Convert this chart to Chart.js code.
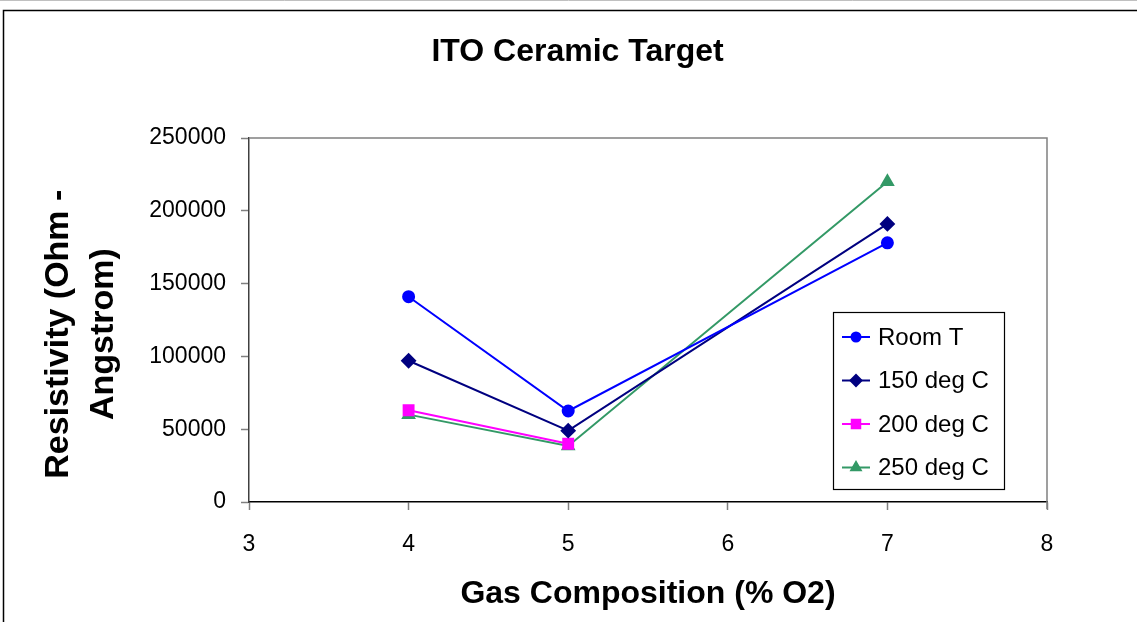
<!DOCTYPE html>
<html>
<head>
<meta charset="utf-8">
<script src="https://cdn.jsdelivr.net/npm/chart.js@4.4.1/dist/chart.umd.min.js"></script>
<style>
  html, body { margin: 0; padding: 0; background: #fff; }
  #wrap { width: 1137px; height: 622px; }
</style>
</head>
<body>
<div id="wrap"><canvas id="itoChart" width="1137" height="622"></canvas></div>
<script>
const gasO2 = [4, 5, 7];
const roomT = [141000, 62500, 178000];
const deg150 = [97000, 49000, 191000];
const deg200 = [63000, 40000, null];
const deg250 = [60000, 38500, 220000];
const xTicks = [3, 4, 5, 6, 7, 8];
const yTicks = [0, 50000, 100000, 150000, 200000, 250000];

const series = [
  { label: 'Room T', values: roomT, color: '#0000FF', style: 'circle', r: 5.5 },
  { label: '150 deg C', values: deg150, color: '#000080', style: 'rectRot', r: 6.5 },
  { label: '200 deg C', values: deg200, color: '#FF00FF', style: 'rect', r: 7 },
  { label: '250 deg C', values: deg250, color: '#339966', style: 'triangle', r: 6.5 },
];

const toPoints = vals => gasO2.map((x, i) => ({ x, y: vals[i] }));

// outer frame + grey plot border (top/right only, axes draw the rest)
const frame = {
  id: 'frame',
  beforeDraw(chart) {
    const c = chart.ctx;
    c.save();
    c.fillStyle = '#fff';
    c.fillRect(0, 0, chart.width, chart.height);
    c.strokeStyle = '#c0c0c0';
    c.lineWidth = 1;
    c.beginPath(); c.moveTo(0, 0.5); c.lineTo(chart.width, 0.5); c.stroke();
    c.strokeStyle = '#000';
    c.lineWidth = 1.5;
    c.strokeRect(3.5, 10.5, 1300, 800);
    c.restore();
  },
  beforeDatasetsDraw(chart) {
    const { left, right, top, bottom } = chart.chartArea;
    const c = chart.ctx;
    c.save();
    c.strokeStyle = '#808080';
    c.lineWidth = 1.5;
    c.beginPath();
    c.moveTo(left, top); c.lineTo(right, top); c.lineTo(right, bottom + 7);
    c.stroke();
    c.restore();
  },
};

// legend box inside the plot, Excel style
const boxLegend = {
  id: 'boxLegend',
  afterDraw(chart) {
    const c = chart.ctx;
    const bx = 833, by = 312, bw = 171, bh = 177;
    c.save();
    c.fillStyle = '#fff';
    c.fillRect(bx, by, bw, bh);
    c.strokeStyle = '#000';
    c.lineWidth = 1.2;
    c.strokeRect(bx + 0.5, by + 0.5, bw, bh);
    c.font = '24px "Liberation Sans", Arial, sans-serif';
    c.textBaseline = 'middle';
    chart.data.datasets.forEach((ds, i) => {
      const y = by + 25 + i * 43.5;
      c.strokeStyle = ds.borderColor;
      c.fillStyle = ds.borderColor;
      c.lineWidth = 2;
      c.beginPath(); c.moveTo(842, y); c.lineTo(870, y); c.stroke();
      Chart.helpers.drawPoint(c, { pointStyle: ds.pointStyle, radius: ds.pointRadius - 1, rotation: 0, borderWidth: 1 }, 856, y);
      c.fillStyle = '#000';
      c.fillText(ds.label, 878, y + 1);
    });
    c.restore();
  },
};

new Chart(document.getElementById('itoChart'), {
  type: 'line',
  data: {
    datasets: series.map(s => ({
      label: s.label,
      data: toPoints(s.values),
      borderColor: s.color,
      backgroundColor: s.color,
      pointBackgroundColor: s.color,
      pointBorderColor: s.color,
      pointStyle: s.style,
      pointRadius: s.r,
      pointHoverRadius: s.r,
      borderWidth: 2,
      tension: 0,
      spanGaps: false,
    })),
  },
  options: {
    responsive: false,
    animation: false,
    layout: { padding: { left: 18, right: 0, top: 0, bottom: 0 } },
    plugins: {
      legend: { display: false },
      tooltip: { enabled: false },
      title: {
        display: true,
        text: 'ITO Ceramic Target',
        color: '#000',
        font: { family: '"Liberation Sans", Arial, sans-serif', size: 32, weight: 'bold', lineHeight: 1.2 },
        padding: { top: 33, bottom: 66.6 },
      },
    },
    scales: {
      x: {
        type: 'linear',
        min: 3, max: 8,
        afterBuildTicks: s => { s.ticks = xTicks.map(v => ({ value: v })); },
        afterFit: s => { s.height = 120; },
        grid: { drawOnChartArea: false, drawTicks: true, tickLength: 8, tickColor: '#808080', tickWidth: 1.5 },
        border: { color: '#000', width: 1.5 },
        ticks: { color: '#000', padding: 21, maxRotation: 0, font: { family: '"Liberation Sans", Arial, sans-serif', size: 23 } },
        title: {
          display: true,
          text: 'Gas Composition (% O2)',
          color: '#000',
          font: { family: '"Liberation Sans", Arial, sans-serif', size: 32, weight: 'bold', lineHeight: 1.2 },
          padding: { top: 0, bottom: 8.5 },
        },
      },
      y: {
        min: 0, max: 250000,
        afterBuildTicks: s => { s.ticks = yTicks.map(v => ({ value: v })); },
        afterFit: s => { s.width = 231; },
        grid: { drawOnChartArea: false, drawTicks: true, tickLength: 8, tickColor: '#808080', tickWidth: 1.5 },
        border: { color: '#404040', width: 1.5 },
        ticks: { color: '#000', padding: 15, callback: v => String(v), font: { family: '"Liberation Sans", Arial, sans-serif', size: 23 } },
        title: {
          display: true,
          text: ['Resistivity (Ohm -   ', 'Angstrom)   '],
          color: '#000',
          font: { family: '"Liberation Sans", Arial, sans-serif', size: 34, weight: 'bold', lineHeight: 1.32 },
          padding: { top: 18, bottom: 0 },
        },
      },
      y2: {
        position: 'right',
        display: true,
        afterFit: s => { s.width = 90; },
        grid: { display: false },
        border: { display: false },
        ticks: { display: false },
      },
    },
  },
  plugins: [frame, boxLegend],
});
</script>
</body>
</html>
